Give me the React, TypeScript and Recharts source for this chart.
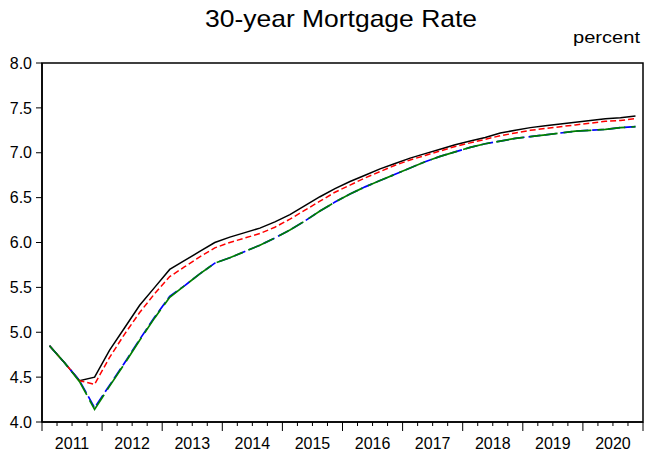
import React from "react";
import {
  LineChart,
  Line,
  XAxis,
  YAxis,
  ReferenceArea,
} from "recharts";

// Quarterly, 2011Q1 - 2020Q4
const years = ["2011", "2012", "2013", "2014", "2015", "2016", "2017", "2018", "2019", "2020"];

const baseline = [
  4.85, 4.66, 4.46, 4.50, 4.80, 5.05, 5.30, 5.50,
  5.70, 5.80, 5.90, 6.00, 6.06, 6.11, 6.16, 6.23,
  6.31, 6.41, 6.51, 6.60, 6.68, 6.75, 6.82, 6.88,
  6.94, 6.99, 7.04, 7.09, 7.13, 7.17, 7.22, 7.25,
  7.28, 7.30, 7.32, 7.34, 7.36, 7.38, 7.39, 7.41,
];

const scenarioA = [
  4.85, 4.66, 4.46, 4.42, 4.72, 4.98, 5.22, 5.43,
  5.62, 5.73, 5.84, 5.94, 6.00, 6.05, 6.10, 6.17,
  6.26, 6.36, 6.46, 6.56, 6.64, 6.72, 6.79, 6.86,
  6.92, 6.97, 7.02, 7.07, 7.11, 7.15, 7.19, 7.22,
  7.25, 7.27, 7.29, 7.31, 7.33, 7.35, 7.36, 7.38,
];

const scenarioB = [
  4.85, 4.66, 4.46, 4.16, 4.41, 4.66, 4.92, 5.17,
  5.40, 5.52, 5.65, 5.77, 5.83, 5.90, 5.97, 6.05,
  6.14, 6.24, 6.35, 6.45, 6.54, 6.62, 6.69, 6.76,
  6.83, 6.90, 6.96, 7.01, 7.06, 7.10, 7.13, 7.16,
  7.18, 7.20, 7.22, 7.24, 7.25, 7.26, 7.28, 7.29,
];

const scenarioC = [
  4.85, 4.66, 4.45, 4.14, 4.40, 4.65, 4.91, 5.16,
  5.39, 5.52, 5.65, 5.77, 5.83, 5.90, 5.97, 6.05,
  6.14, 6.24, 6.35, 6.45, 6.54, 6.62, 6.69, 6.76,
  6.83, 6.90, 6.96, 7.01, 7.06, 7.10, 7.13, 7.16,
  7.18, 7.20, 7.22, 7.24, 7.25, 7.26, 7.28, 7.29,
];

const yTicks = [4.0, 4.5, 5.0, 5.5, 6.0, 6.5, 7.0, 7.5, 8.0];
const quarterTicks = Array.from({ length: years.length * 4 + 1 }, (_, i) => i);

const data = baseline.map((v, i) => ({
  t: i + 0.5,
  baseline: v,
  scenarioA: scenarioA[i],
  scenarioB: scenarioB[i],
  scenarioC: scenarioC[i],
}));

const QuarterTick = (props: any) => {
  const { x, y, payload } = props;
  const v = payload.value as number;
  const major = v % 4 === 0;
  return (
    <g>
      <line x1={x} x2={x} y1={y} y2={y + (major ? 9 : 4)} stroke="#000" strokeWidth={1} />
      {v % 4 === 2 && (
        <text x={x} y={y + 27} textAnchor="middle" fontSize={16} fill="#000">
          {years[(v - 2) / 4]}
        </text>
      )}
    </g>
  );
};

const App = () => {
  return (
    <div
      style={{
        position: "absolute",
        left: 0,
        top: 0,
        width: 645,
        height: 457,
        background: "#fff",
        fontFamily: "'Liberation Sans', Arial, sans-serif",
      }}
    >
      <LineChart
        width={645}
        height={457}
        data={data}
        margin={{ top: 63, right: 2, bottom: 0, left: 0 }}
      >
        <XAxis
          dataKey="t"
          type="number"
          domain={[0, 40]}
          ticks={quarterTicks}
          interval={0}
          tick={<QuarterTick />}
          tickLine={false}
          tickSize={0}
          tickMargin={0}
          axisLine={{ stroke: "#000", strokeWidth: 1.5 }}
          height={35}
        />
        <YAxis
          type="number"
          domain={[4, 8]}
          ticks={yTicks}
          interval={0}
          width={42}
          tickSize={6}
          tickMargin={4}
          tickFormatter={(v: number) => v.toFixed(1)}
          tick={{ fontSize: 16, fill: "#000" }}
          tickLine={{ stroke: "#000" }}
          axisLine={{ stroke: "#000", strokeWidth: 1.5 }}
        />
        <ReferenceArea x1={0} x2={40} y1={4} y2={8} fill="none" stroke="#000" strokeWidth={1.5} />
        <Line
          type="linear"
          dataKey="baseline"
          stroke="#000000"
          strokeWidth={1.5}
          dot={false}
          isAnimationActive={false}
        />
        <Line
          type="linear"
          dataKey="scenarioA"
          stroke="#ff0000"
          strokeWidth={1.5}
          strokeDasharray="6 3"
          dot={false}
          isAnimationActive={false}
        />
        <Line
          type="linear"
          dataKey="scenarioB"
          stroke="#0000ff"
          strokeWidth={1.7}
          strokeDasharray="12 4"
          dot={false}
          isAnimationActive={false}
        />
        <Line
          type="linear"
          dataKey="scenarioC"
          stroke="#008000"
          strokeWidth={1.7}
          strokeDasharray="28 6"
          dot={false}
          isAnimationActive={false}
        />
      </LineChart>
      <svg
        width={645}
        height={457}
        style={{ position: "absolute", left: 0, top: 0, pointerEvents: "none" }}
      >
        <text x={341} y={27} textAnchor="middle" fontSize={24} fill="#000" textLength={272} lengthAdjust="spacingAndGlyphs">
          30-year Mortgage Rate
        </text>
        <text x={573} y={43} fontSize={16} fill="#000" textLength={67} lengthAdjust="spacingAndGlyphs">
          percent
        </text>
      </svg>
    </div>
  );
};

export default App;
